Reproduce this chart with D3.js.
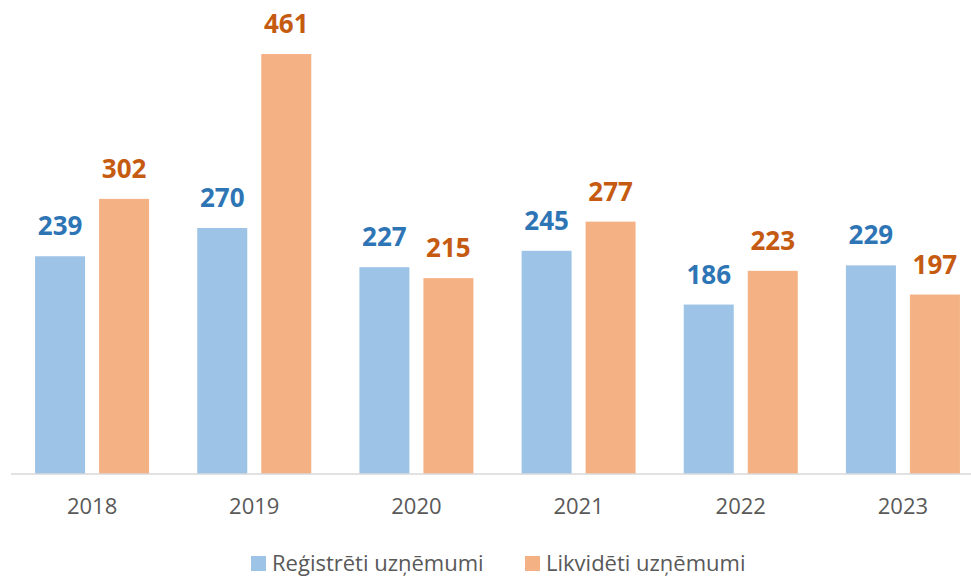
<!DOCTYPE html>
<html>
<head>
<meta charset="utf-8">
<script src="https://cdn.jsdelivr.net/npm/d3@7"></script>
<style>
  body { margin: 0; background: #fff; }
  text { font-family: "Open Sans", "DejaVu Sans", sans-serif; }
</style>
</head>
<body>
<div class="chart"></div>
<script>
// Data
const years = ["2018", "2019", "2020", "2021", "2022", "2023"];
const registered = [239, 270, 227, 245, 186, 229];
const liquidated = [302, 461, 215, 277, 223, 197];
const seriesNames = ["Reģistrēti uzņēmumi", "Likvidēti uzņēmumi"];

const barColors = ["#9DC3E6", "#F4B183"];
const labelColors = ["#2E75B6", "#C55A11"];

// Dimensions
const width = 971, height = 578;
const baseline = 474;

// Scales
const xScale = d3.scaleBand()
    .domain(years)
    .range([11, 984])
    .paddingInner(0.297)
    .paddingOuter(0.1485);
const xFacet = d3.scaleBand()
    .domain([0, 1])
    .range([0, xScale.bandwidth()])
    .paddingInner(0.219);
const yScale = d3.scaleLinear()
    .domain([0, 500])
    .range([baseline, 18.5]);

const data = [];
years.forEach((y, i) => {
  data.push({year: y, s: 0, value: registered[i]});
  data.push({year: y, s: 1, value: liquidated[i]});
});

// Append
const svg = d3.select(".chart").append("svg")
    .attr("width", width)
    .attr("height", height);

svg.selectAll(".bar")
    .data(data)
  .enter().append("rect")
    .attr("class", "bar")
    .attr("x", d => xScale(d.year) + xFacet(d.s))
    .attr("y", d => yScale(d.value))
    .attr("width", xFacet.bandwidth())
    .attr("height", d => baseline - yScale(d.value))
    .attr("fill", d => barColors[d.s]);

svg.selectAll(".value")
    .data(data)
  .enter().append("text")
    .attr("class", "value")
    .attr("x", d => xScale(d.year) + xFacet(d.s) + xFacet.bandwidth() / 2)
    .attr("y", d => yScale(d.value) - 21)
    .attr("text-anchor", "middle")
    .attr("font-size", 26)
    .attr("font-weight", "bold")
    .attr("fill", d => labelColors[d.s])
    .text(d => d.value);

// Axis
const xAxis = svg.append("g")
    .attr("transform", "translate(0," + baseline + ")")
    .call(d3.axisBottom(xScale).tickSize(0).tickPadding(0));
xAxis.select(".domain").attr("stroke", "#D9D9D9").attr("stroke-width", 1.5)
    .attr("d", "M11,0H971");
xAxis.selectAll("text")
    .attr("dy", 0)
    .attr("y", 40)
    .attr("font-size", 22)
    .attr("fill", "#595959")
    .style("font-family", "'Open Sans', sans-serif");

// Legend
const legendX = [251, 525];
const legend = svg.selectAll(".legend-item")
    .data(seriesNames)
  .enter().append("g")
    .attr("class", "legend-item")
    .attr("transform", (d, i) => "translate(" + legendX[i] + ",556)");
legend.append("rect")
    .attr("width", 15)
    .attr("height", 15)
    .attr("fill", (d, i) => barColors[i]);
legend.append("text")
    .attr("x", 21)
    .attr("y", 15)
    .attr("font-size", 22)
    .attr("fill", "#595959")
    .text(d => d);
</script>
</body>
</html>
